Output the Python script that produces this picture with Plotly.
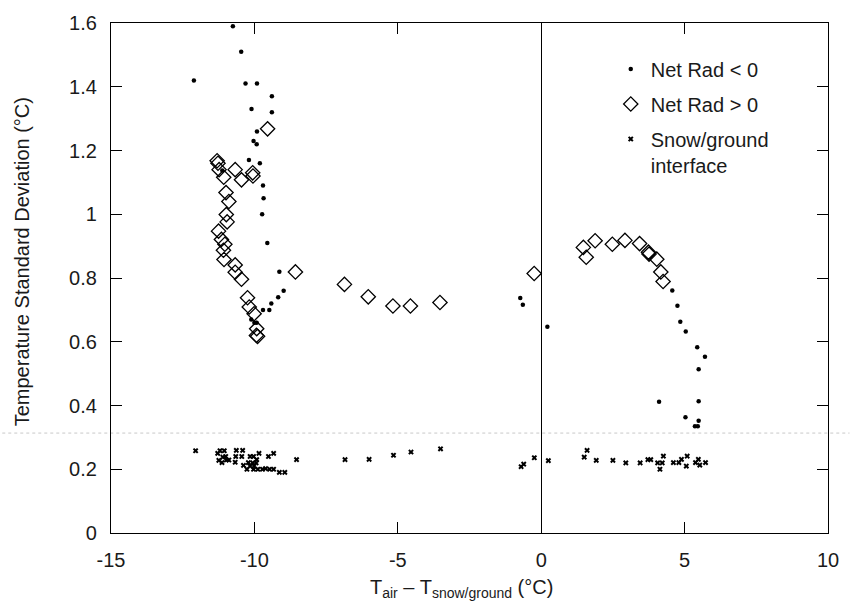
import plotly.graph_objects as go

# Net Rad < 0 (dots)
neg_x = [-10.75, -10.46, -12.11, -10.31, -9.91, -9.39, -10.10, -9.39, -9.91, -10.03, -9.92,
         -10.19, -9.81, -11.12, -9.70, -9.68, -9.73, -9.55, -9.13, -8.98, -9.17, -9.41, -9.70,
         -9.48, -10.11, -10.00, -9.92, -0.73, -0.64, 0.215, 4.57, 4.75, 4.85, 5.04, 5.44, 5.71,
         5.49, 4.11, 5.49, 5.03, 5.49, 5.36, 5.46]
neg_y = [1.59, 1.51, 1.42, 1.41, 1.41, 1.37, 1.33, 1.32, 1.26, 1.23, 1.22,
         1.17, 1.16, 1.137, 1.09, 1.05, 1.00, 0.91, 0.82, 0.76, 0.74, 0.72, 0.70,
         0.70, 0.67, 0.66, 0.66, 0.737, 0.716, 0.647, 0.761, 0.713, 0.663, 0.632, 0.583, 0.553,
         0.514, 0.412, 0.413, 0.363, 0.352, 0.335, 0.335]

# Net Rad > 0 (open diamonds)
pos_x = [-9.54, -11.30, -11.27, -10.67, -11.23, -10.06, -10.05, -11.07, -10.45, -10.99, -10.89,
         -10.98, -10.95, -11.25, -11.15, -11.03, -11.08, -11.06, -10.67, -8.57, -10.67, -10.45,
         -10.24, -10.18, -10.01, -9.92, -9.93, -9.89, -6.86, -6.03, -5.17, -4.56, -3.53, -0.245,
         1.47, 1.57, 1.88, 2.48, 2.92, 3.43, 3.74, 3.76, 4.03, 4.17, 4.25]
pos_y = [1.268, 1.168, 1.16, 1.14, 1.14, 1.13, 1.12, 1.116, 1.108, 1.068, 1.04,
         0.999, 0.976, 0.947, 0.921, 0.906, 0.887, 0.858, 0.841, 0.819, 0.818, 0.796,
         0.738, 0.709, 0.688, 0.641, 0.62, 0.617, 0.780, 0.741, 0.712, 0.712, 0.723, 0.814,
         0.896, 0.865, 0.917, 0.906, 0.918, 0.908, 0.881, 0.875, 0.859, 0.819, 0.789]

# Snow/ground interface (x markers)
sg_x = [-12.05, -11.20, -11.05, -11.28, -11.10, -11.00, -11.24, -11.13, -10.98, -10.89, -10.63,
        -10.41, -10.65, -10.44, -10.67, -10.15, -10.03, -9.84, -9.92, -10.38, -10.26, -10.21,
        -10.06, -9.94, -10.15, -10.01, -10.03, -9.88, -9.72, -9.61, -9.47, -9.33, -9.51, -9.33,
        -9.13, -8.94, -8.53, -6.84, -6.00, -5.15, -4.54, -3.51, -0.70, -0.61, -0.24, 0.25,
        1.50, 1.60, 1.92, 2.50, 2.95, 3.45, 3.72, 3.82, 4.06, 4.22, 4.26, 4.14, 4.61, 4.80,
        4.89, 5.09, 5.06, 5.38, 5.48, 5.53, 5.73]
sg_y = [0.258, 0.258, 0.258, 0.250, 0.238, 0.240, 0.228, 0.221, 0.229, 0.229, 0.259,
        0.259, 0.240, 0.240, 0.222, 0.240, 0.240, 0.250, 0.230, 0.212, 0.200, 0.221,
        0.220, 0.220, 0.210, 0.210, 0.200, 0.200, 0.200, 0.202, 0.200, 0.200, 0.240, 0.250,
        0.190, 0.190, 0.230, 0.230, 0.231, 0.244, 0.254, 0.264, 0.208, 0.216, 0.236, 0.227,
        0.238, 0.259, 0.228, 0.228, 0.220, 0.220, 0.230, 0.230, 0.220, 0.220, 0.241, 0.200,
        0.221, 0.221, 0.231, 0.241, 0.210, 0.221, 0.231, 0.213, 0.221]

x_ticks = [-15, -10, -5, 0, 5, 10]
x_ticktext = ["-15", "-10", "-5", "0", "5", "10"]
y_ticks = [0, 0.2, 0.4, 0.6, 0.8, 1.0, 1.2, 1.4, 1.6]
y_ticktext = ["0", "0.2", "0.4", "0.6", "0.8", "1", "1.2", "1.4", "1.6"]

FONT = "Liberation Sans, Arial, Helvetica, sans-serif"

fig = go.Figure()
fig.add_trace(go.Scatter(x=neg_x, y=neg_y, mode="markers", name="Net Rad < 0",
                         legendgroup="a",
                         marker=dict(symbol="circle", size=4.5, color="black")))
fig.add_trace(go.Scatter(x=pos_x, y=pos_y, mode="markers", name="Net Rad > 0",
                         legendgroup="b",
                         marker=dict(symbol="diamond-open", size=11, color="black",
                                     line=dict(width=1.3, color="black"))))
fig.add_trace(go.Scatter(x=sg_x, y=sg_y, mode="markers", name="Snow/ground<br>interface",
                         legendgroup="c",
                         marker=dict(symbol="x", size=5, color="black",
                                     line=dict(width=0))))

# faint scan line across the page
fig.add_shape(type="line", xref="paper", yref="y", x0=-0.16, x1=1.03, y0=0.3135, y1=0.3135,
              line=dict(color="#c8c8c8", width=1, dash="dot"), layer="below")

fig.update_layout(
    width=851, height=608,
    margin=dict(l=111, r=14, t=15, b=75),
    paper_bgcolor="white", plot_bgcolor="white",
    font=dict(family=FONT, size=20, color="#1a1a1a"),
    showlegend=True,
    legend=dict(x=0.697, y=0.948, xanchor="left", yanchor="top",
                bgcolor="rgba(0,0,0,0)", font=dict(size=20),
                traceorder="grouped", tracegroupgap=6, valign="top"),
    annotations=[
        dict(text="Temperature Standard Deviation (°C)", xref="paper", yref="paper",
             x=-0.124, y=0.531, textangle=-90, showarrow=False,
             xanchor="center", yanchor="middle", font=dict(size=20)),
        dict(text="T<sub>air</sub> – T<sub>snow/ground</sub> (°C)", xref="paper", yref="paper",
             x=0.489, y=-0.108, showarrow=False, xanchor="center", yanchor="middle",
             font=dict(size=20)),
    ],
)

fig.update_xaxes(range=[-15, 10], tickvals=x_ticks, ticktext=x_ticktext,
                 showgrid=False, zeroline=True, zerolinecolor="black", zerolinewidth=1.2,
                 showline=True, linecolor="black", linewidth=1.3, mirror="ticks",
                 ticks="inside", ticklen=11, tickwidth=1, tickcolor="black",
                 ticklabelstandoff=9)
fig.update_yaxes(range=[0, 1.6], tickvals=y_ticks, ticktext=y_ticktext,
                 showgrid=False, zeroline=False,
                 showline=True, linecolor="black", linewidth=1.3, mirror="ticks",
                 ticks="inside", ticklen=11, tickwidth=1, tickcolor="black",
                 ticklabelstandoff=9)

fig.write_html("out.html")
